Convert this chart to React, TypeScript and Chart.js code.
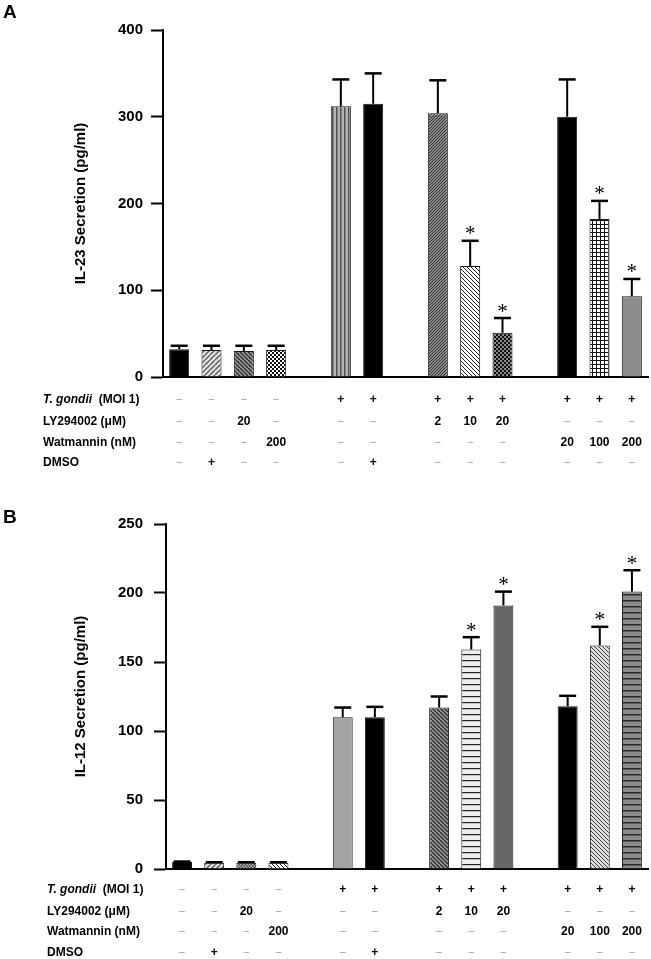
import { useEffect, useRef } from 'react';
import { Chart, registerables } from 'chart.js';

Chart.register(...registerables);

const FONT = 'Arial, "Liberation Sans", Helvetica, sans-serif';

// ---------- data ----------
const categories = ['1', '2', '3', '4', '', '5', '6', '', '7', '8', '9', '', '10', '11', '12'];

const il23Values = [32, 31, 30, 31, null, 312, 315, null, 304, 128, 51, null, 300, 182, 93];
const il23Errors = [4, 5, 6, 5, null, 31, 35, null, 38, 29, 17, null, 43, 21, 20];
const il23Significant = [false, false, false, false, false, false, false, false, false, true, true, false, false, true, true];
const il23Ticks = [0, 100, 200, 300, 400];

const il12Values = [5, 4.5, 4.5, 4.5, null, 110, 110, null, 117, 159, 191, null, 118, 162, 201];
const il12Errors = [0.4, 0.4, 0.4, 0.4, null, 7, 7.5, null, 8, 9, 10, null, 7.5, 13.5, 15.5];
const il12Significant = [false, false, false, false, false, false, false, false, false, true, true, false, false, true, true];
const il12Ticks = [0, 50, 100, 150, 200, 250];

const rowLabels = ['T. gondii', 'LY294002 (μM)', 'Watmannin (nM)', 'DMSO'];
const tGondiiRow = ['–', '–', '–', '–', '', '+', '+', '', '+', '+', '+', '', '+', '+', '+'];
const lyRow = ['–', '–', '20', '–', '', '–', '–', '', '2', '10', '20', '', '–', '–', '–'];
const watRow = ['–', '–', '–', '200', '', '–', '–', '', '–', '–', '–', '', '20', '100', '200'];
const dmsoRow = ['–', '+', '–', '–', '', '–', '+', '', '–', '–', '–', '', '–', '–', '–'];

// ---------- styles ----------
const il23Fills = ['black', 'fwdLight', 'backDark', 'checker', '', 'vstripe', 'black', '', 'fwdDark', 'backLight', 'checkerDark', '', 'black', 'grid', 'gray'];
const il12Fills = ['black', 'fwdLight', 'checkerGray', 'backLight', '', 'lightGray', 'black', '', 'backDark', 'hLight', 'darkGray', '', 'black', 'backLighter', 'hGray'];

function tile(size: number, bg: string, draw?: (g: CanvasRenderingContext2D, s: number) => void): CanvasPattern | string {
  const c = document.createElement('canvas');
  c.width = size;
  c.height = size;
  const g = c.getContext('2d');
  if (!g) return bg;
  g.fillStyle = bg;
  g.fillRect(0, 0, size, size);
  if (draw) draw(g, size);
  return g.createPattern(c, 'repeat') || bg;
}

function diag(size: number, bg: string, fg: string, dir: '/' | '\\', lw: number) {
  return tile(size, bg, (g, s) => {
    g.strokeStyle = fg;
    g.lineWidth = lw;
    g.beginPath();
    for (let k = -1; k <= 1; k++) {
      if (dir === '/') {
        g.moveTo(k * s, s);
        g.lineTo(k * s + s, 0);
      } else {
        g.moveTo(k * s, 0);
        g.lineTo(k * s + s, s);
      }
    }
    g.stroke();
  });
}

function checker(size: number, a: string, b: string) {
  return tile(size, a, (g, s) => {
    g.fillStyle = b;
    g.fillRect(0, 0, s / 2, s / 2);
    g.fillRect(s / 2, s / 2, s / 2, s / 2);
  });
}

function fillFor(kind: string): CanvasPattern | string {
  switch (kind) {
    case 'black': return '#000000';
    case 'gray': return '#8c8c8c';
    case 'lightGray': return '#a3a3a3';
    case 'darkGray': return '#666666';
    case 'fwdLight': return diag(5, '#e2e2e2', '#5a5a5a', '/', 1.4);
    case 'backDark': return diag(4, '#9a9a9a', '#2a2a2a', '\\', 1.3);
    case 'fwdDark': return diag(3, '#8a8a8a', '#2e2e2e', '/', 1);
    case 'backLight': return diag(4, '#ffffff', '#222222', '\\', 1);
    case 'backLighter': return diag(4, '#dcdcdc', '#444444', '\\', 1);
    case 'checker': return checker(4, '#ffffff', '#111111');
    case 'checkerDark': return checker(4, '#111111', '#8a8a8a');
    case 'checkerGray': return checker(3, '#444444', '#bbbbbb');
    case 'vstripe': return tile(4, '#b4b4b4', (g) => { g.fillStyle = '#505050'; g.fillRect(0, 0, 1.5, 4); });
    case 'grid': return tile(4, '#ffffff', (g) => { g.fillStyle = '#111111'; g.fillRect(0, 0, 4, 1); g.fillRect(0, 0, 1, 4); });
    case 'hLight': return tile(6, '#eeeeee', (g) => { g.fillStyle = '#222222'; g.fillRect(0, 0, 6, 1.2); });
    case 'hGray': return tile(6, '#8a8a8a', (g) => { g.fillStyle = '#2a2a2a'; g.fillRect(0, 0, 6, 1.5); });
    default: return 'rgba(0,0,0,0)';
  }
}

// ---------- plugins ----------
const errorBarPlugin = {
  id: 'errorBars',
  afterDatasetsDraw(chart: any, _args: any, opts: any) {
    const { ctx } = chart;
    const meta = chart.getDatasetMeta(0);
    const yScale = chart.scales.y;
    const values: (number | null)[] = opts.values;
    const errors: (number | null)[] = opts.errors;
    const sig: boolean[] = opts.significant;
    ctx.save();
    ctx.strokeStyle = '#000';
    values.forEach((v, i) => {
      if (v == null) return;
      const e = errors[i] || 0;
      const x = meta.data[i].x;
      const yTop = yScale.getPixelForValue(v);
      const yErr = yScale.getPixelForValue(v + e);
      ctx.lineWidth = 2;
      ctx.beginPath();
      ctx.moveTo(x, yTop);
      ctx.lineTo(x, yErr);
      ctx.stroke();
      ctx.lineWidth = 2.5;
      ctx.beginPath();
      ctx.moveTo(x - 8.5, yErr);
      ctx.lineTo(x + 8.5, yErr);
      ctx.stroke();
      if (sig[i]) {
        ctx.fillStyle = '#000';
        ctx.font = '21px "Liberation Serif", "Times New Roman", serif';
        ctx.textAlign = 'center';
        ctx.textBaseline = 'alphabetic';
        ctx.fillText('*', x, yErr - 0.5);
      }
    });
    ctx.restore();
  },
};

const tablePlugin = {
  id: 'conditionTable',
  afterDraw(chart: any, _args: any, opts: any) {
    const { ctx } = chart;
    const xScale = chart.scales.x;
    const base = chart.chartArea.bottom;
    const rows: string[][] = [tGondiiRow, lyRow, watRow, dmsoRow];
    const offsets: number[] = opts.offsets;
    const labelX: number = opts.labelX;
    ctx.save();
    ctx.textBaseline = 'middle';
    rows.forEach((row, r) => {
      const y = base + offsets[r];
      ctx.textAlign = 'left';
      ctx.fillStyle = '#000';
      if (r === 0) {
        ctx.font = `italic bold 12px ${FONT}`;
        ctx.fillText(rowLabels[0], labelX, y);
        const w = ctx.measureText(rowLabels[0] + '  ').width;
        ctx.font = `bold 12px ${FONT}`;
        ctx.fillText('(MOI 1)', labelX + w, y);
      } else {
        ctx.font = `bold 12px ${FONT}`;
        ctx.fillText(rowLabels[r], labelX, y);
      }
      ctx.textAlign = 'center';
      row.forEach((cell, i) => {
        if (!cell) return;
        const x = xScale.getPixelForValue(i);
        if (cell === '–') {
          ctx.fillStyle = '#9a9a9a';
          ctx.font = `10px ${FONT}`;
        } else {
          ctx.fillStyle = '#000';
          ctx.font = `bold 12px ${FONT}`;
        }
        ctx.fillText(cell, x, y);
      });
    });
    ctx.textAlign = 'left';
    ctx.textBaseline = 'alphabetic';
    ctx.fillStyle = '#000';
    ctx.font = `bold 19px ${FONT}`;
    ctx.fillText(opts.letter, opts.letterX, opts.letterY);
    ctx.restore();
  },
};

type PanelProps = {
  width: number;
  height: number;
  values: (number | null)[];
  errors: (number | null)[];
  significant: boolean[];
  fills: string[];
  ticks: number[];
  title: string;
  axisLeft: number;
  plotTop: number;
  plotBottom: number;
  right: number;
  tickPadding: number;
  offsets: number[];
  labelX: number;
  letter: string;
  letterY: number;
};

function Panel(p: PanelProps) {
  const ref = useRef<HTMLCanvasElement | null>(null);
  useEffect(() => {
    if (!ref.current) return;
    const bg = p.fills.map((k) => fillFor(k));
    const chart = new Chart(ref.current, {
      type: 'bar',
      data: {
        labels: categories,
        datasets: [
          {
            data: p.values as any,
            backgroundColor: bg as any,
            borderColor: '#1a1a1a',
            borderWidth: 1,
            barPercentage: 0.62,
            categoryPercentage: 1,
          },
        ],
      },
      plugins: [errorBarPlugin, tablePlugin],
      options: {
        responsive: false,
        animation: false,
        devicePixelRatio: 1,
        layout: { padding: { top: p.plotTop, left: 0, right: p.width - p.right, bottom: 0 } },
        plugins: {
          legend: { display: false },
          tooltip: { enabled: false },
          errorBars: { values: p.values, errors: p.errors, significant: p.significant },
          conditionTable: { offsets: p.offsets, labelX: p.labelX, letter: p.letter, letterX: 3, letterY: p.letterY },
        } as any,
        scales: {
          x: {
            type: 'category',
            offset: true,
            grid: { display: false },
            ticks: { display: false },
            border: { display: true, color: '#000', width: 2 },
            afterFit: (s: any) => {
              s.height = p.height - p.plotBottom;
            },
          },
          y: {
            min: p.ticks[0],
            max: p.ticks[p.ticks.length - 1],
            afterBuildTicks: (s: any) => {
              s.ticks = p.ticks.map((v) => ({ value: v }));
            },
            afterFit: (s: any) => {
              s.width = p.axisLeft;
            },
            grid: {
              display: true,
              drawOnChartArea: false,
              drawTicks: true,
              tickLength: 12,
              tickWidth: 2,
              tickColor: '#000',
            },
            border: { display: true, color: '#000', width: 2 },
            ticks: {
              color: '#000',
              padding: p.tickPadding,
              font: { family: FONT, size: 15, weight: 'bold' },
            },
            title: {
              display: true,
              text: p.title,
              color: '#000',
              font: { family: FONT, size: 15, weight: 'bold' },
              padding: { top: 72, bottom: 0 },
            },
          },
        },
      } as any,
    });
    return () => chart.destroy();
  }, []);
  return <canvas ref={ref} width={p.width} height={p.height} style={{ display: 'block', width: p.width, height: p.height }} />;
}

export default function App() {
  return (
    <div style={{ position: 'absolute', left: 0, top: 0, width: 651, height: 959, background: '#fff' }}>
      <Panel
        width={651}
        height={480}
        values={il23Values}
        errors={il23Errors}
        significant={il23Significant}
        fills={il23Fills}
        ticks={il23Ticks}
        title="IL-23 Secretion (pg/ml)"
        axisLeft={163}
        plotTop={30}
        plotBottom={377}
        right={648}
        tickPadding={8}
        offsets={[22.5, 44.5, 65.5, 85.5]}
        labelX={43}
        letter="A"
        letterY={18}
      />
      <Panel
        width={651}
        height={479}
        values={il12Values}
        errors={il12Errors}
        significant={il12Significant}
        fills={il12Fills}
        ticks={il12Ticks}
        title="IL-12 Secretion (pg/ml)"
        axisLeft={166}
        plotTop={44}
        plotBottom={389}
        right={648}
        tickPadding={11}
        offsets={[20.5, 42.5, 62.5, 83.5]}
        labelX={47}
        letter="B"
        letterY={43}
      />
    </div>
  );
}
